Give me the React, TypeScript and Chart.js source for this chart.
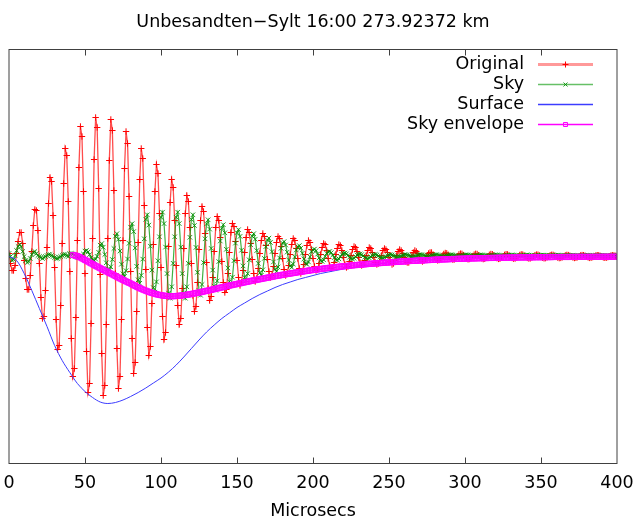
import React, { useEffect, useRef } from "react";
import { Chart, registerables } from "chart.js";

Chart.register(...registerables);

const FONT = '"DejaVu Sans", "Liberation Sans", sans-serif';
const FONT_SIZE = 17.5;

const TITLE = "Unbesandten\u2212Sylt 16:00 273.92372 km";
const X_LABEL = "Microsecs";
const X_MIN = 0;
const X_MAX = 400;
const X_STEP = 50;
const SERIES_NAMES = ["Original", "Sky", "Surface", "Sky envelope"];

// Original and Sky: one sample per microsecond, t = 0 .. 400
const SAMPLE_START_US = 0;
const SAMPLE_STEP_US = 1;

const ORIGINAL = [
  3, -7, -14, -14, -9, 3, 15, 24, 24, 13,
  -4, -22, -33, -33, -19, 5, 31, 47, 46, 26,
  -7, -41, -62, -60, -34, 9, 53, 79, 75, 41,
  -11, -63, -93, -89, -49, 13, 73, 108, 101, 55,
  -15, -82, -120, -112, -61, 16, 89, 130, 120, 65,
  -17, -95, -136, -127, -67, 18, 97, 139, 129, 68,
  -18, -97, -139, -129, -68, 18, 96, 137, 126, 66,
  -17, -92, -132, -120, -63, 16, 88, 125, 113, 60,
  -15, -82, -117, -106, -55, 14, 77, 108, 98, 51,
  -13, -71, -99, -90, -47, 12, 65, 92, 83, 43,
  -11, -60, -83, -76, -40, 10, 54, 77, 69, 36,
  -9, -49, -68, -62, -32, 8, 43, 61, 55, 29,
  -7, -39, -55, -50, -26, 7, 36, 50, 45, 23,
  -6, -32, -44, -40, -21, 5, 29, 40, 36, 19,
  -5, -26, -36, -33, -17, 4, 24, 33, 30, 15,
  -4, -21, -29, -26, -14, 4, 19, 27, 24, 13,
  -3, -17, -25, -22, -12, 3, 16, 23, 20, 11,
  -3, -15, -21, -19, -10, 3, 14, 20, 18, 10,
  -2, -13, -19, -17, -9, 2, 12, 18, 16, 8,
  -2, -12, -17, -15, -8, 2, 11, 16, 14, 7,
  -2, -10, -14, -13, -7, 2, 9, 13, 12, 6,
  -2, -9, -12, -11, -6, 2, 8, 12, 11, 6,
  -1, -8, -11, -10, -5, 1, 7, 10, 9, 5,
  -1, -6, -9, -8, -4, 1, 6, 9, 8, 4,
  -1, -6, -8, -7, -4, 1, 6, 8, 7, 4,
  -1, -5, -8, -7, -4, 1, 5, 7, 6, 3,
  -1, -5, -6, -6, -3, 1, 4, 6, 5, 3,
  -1, -3, -5, -4, -2, 1, 3, 4, 4, 2,
  -0.5, -2.8, -3.9, -3.5, -1.8, 0.5, 2.5, 3.5, 3.2, 1.7,
  -0.4, -2.3, -3.2, -2.9, -1.5, 0.4, 2.1, 2.9, 2.7, 1.4,
  -0.4, -1.9, -2.8, -2.5, -1.3, 0.4, 1.9, 2.7, 2.5, 1.3,
  -0.3, -1.8, -2.6, -2.3, -1.2, 0.3, 1.7, 2.5, 2.3, 1.2,
  -0.3, -1.6, -2.4, -2.2, -1.1, 0.3, 1.6, 2.3, 2.1, 1.1,
  -0.3, -1.5, -2.2, -2.0, -1.0, 0.3, 1.5, 2.1, 1.9, 1.0,
  -0.2, -1.4, -2.0, -1.8, -0.9, 0.2, 1.3, 1.9, 1.8, 0.9,
  -0.2, -1.2, -1.8, -1.6, -0.8, 0.2, 1.2, 1.7, 1.6, 0.8,
  -0.2, -1.1, -1.6, -1.4, -0.8, 0.2, 1.1, 1.6, 1.4, 0.7,
  -0.2, -1.0, -1.5, -1.3, -0.7, 0.2, 1.0, 1.4, 1.3, 0.7,
  -0.2, -0.9, -1.4, -1.2, -0.6, 0.2, 0.9, 1.3, 1.2, 0.6,
  -0.2, -0.9, -1.3, -1.2, -0.6, 0.2, 0.9, 1.2, 1.1, 0.6,
  -0.2,
];

const SKY = [
  3, 0, -4, -3, 1, 6, 10, 12, 10, 5,
  0, -4, -6, -5, -2, 2, 4, 5, 3, 1,
  0, -1, -2, -1, 0, 1, 2, 2, 1, 0,
  -1, -2, -2, -1, 0, 1, 2, 2, 1, 0,
  2.8, 3, 2.5, 1.4, 0.1, -0.8, -1, -0.5, 0.6, 2.5,
  5.4, 6, 4.6, 1.9, -1.1, -3.4, -4, -2.6, 0.1, 4.2,
  11.3, 12.9, 9.3, 2, -6.3, -12.3, -13.9, -10.3, -3, 8,
  20.3, 22.8, 17.2, 5.5, -7.7, -17.3, -19.8, -14.2, -2.5, 13.2,
  29.3, 32.8, 24.9, 8.6, -9.8, -23.3, -26.8, -18.9, -2.6, 17.7,
  37.2, 41.7, 31.4, 10.3, -13.6, -31.2, -35.7, -25.4, -4.3, 19.7,
  39.2, 44.3, 32.9, 9.4, -17.1, -36.6, -41.7, -30.3, -6.8, 19.7,
  39.2, 44.3, 32.9, 9.4, -17.1, -36.6, -41.7, -30.3, -6.8, 19.2,
  37, 41.7, 31, 9.1, -15.8, -34, -38.7, -28, -6.1, 17.7,
  32.6, 36.7, 27.4, 8.1, -13.6, -29.6, -33.7, -24.4, -5.1, 15.5,
  28.2, 31.8, 23.7, 7.2, -11.5, -25.2, -28.8, -20.7, -4.2, 13.4,
  23.8, 26.8, 20.1, 6.3, -9.4, -20.8, -23.8, -17.1, -3.3, 11.7,
  20.4, 22.8, 17.3, 5.9, -6.9, -16.4, -18.8, -13.3, -1.9, 9.9,
  16.4, 18.4, 14, 4.9, -5.4, -12.9, -14.9, -10.5, -1.4, 8.2,
  13.4, 14.9, 11.5, 4.4, -3.5, -9.4, -10.9, -7.5, -0.4, 6.5,
  9.8, 10.9, 8.4, 3.3, -2.5, -6.8, -7.9, -5.4, -0.3, 4.8,
  6.7, 7.4, 5.8, 2.4, -1.4, -4.2, -4.9, -3.3, 0.1, 3.2,
  4.5, 5, 3.8, 1.5, -1.1, -3, -3.5, -2.3, -0.1, 2.1,
  3.1, 3.5, 2.7, 1.1, -0.8, -2.1, -2.5, -1.7, -0.1, 1.5,
  2.2, 2.5, 1.9, 0.7, -0.7, -1.7, -2, -1.4, -0.2, 1.1,
  1.8, 2, 1.5, 0.6, -0.5, -1.3, -1.5, -1, -0.1, 0.9,
  1.6, 1.8, 1.5, 0.8, 0.1, -0.4, -0.5, -0.2, 0.5, 1.2,
  1.7, 1.9, 1.6, 1.0, 0.3, -0.2, -0.3, 0.0, 0.6, 1.3,
  1.8, 1.9, 1.6, 1.1, 0.5, 0.1, 0.0, 0.3, 0.8, 1.3,
  1.7, 1.8, 1.6, 1.1, 0.6, 0.2, 0.1, 0.4, 0.9, 1.4,
  1.6, 1.7, 1.5, 1.1, 0.7, 0.4, 0.3, 0.5, 0.9, 1.3,
  1.6, 1.7, 1.5, 1.2, 0.8, 0.5, 0.4, 0.6, 1.0, 1.3,
  1.5, 1.6, 1.4, 1.1, 0.8, 0.6, 0.5, 0.7, 1.0, 1.3,
  1.5, 1.6, 1.4, 1.1, 0.8, 0.6, 0.6, 0.8, 1.1, 1.3,
  1.4, 1.5, 1.4, 1.1, 0.9, 0.7, 0.6, 0.8, 1.0, 1.2,
  1.4, 1.5, 1.3, 1.1, 0.9, 0.7, 0.7, 0.8, 1.0, 1.2,
  1.3, 1.4, 1.3, 1.1, 0.9, 0.8, 0.7, 0.8, 1.0, 1.2,
  1.3, 1.4, 1.3, 1.1, 0.9, 0.8, 0.8, 0.9, 1.0, 1.1,
  1.2, 1.3, 1.2, 1.1, 0.9, 0.8, 0.8, 0.9, 1.0, 1.1,
  1.2, 1.3, 1.2, 1.0, 0.9, 0.8, 0.8, 0.9, 1.0, 1.1,
  1.2, 1.2, 1.1, 1.0, 0.9, 0.8, 0.8, 0.9, 1.0, 1.1,
  1.1,
];

// Surface: every 5 microseconds, t = 0 .. 400
const SURFACE_START_US = 0;
const SURFACE_STEP_US = 5;
const SURFACE = [
  0, -4, -17, -34, -52, -70, -89, -104, -116, -127,
  -135, -141, -145.5, -147, -146, -143.5, -140, -136, -131.5, -126.5,
  -121.5, -115.5, -108.5, -100.5, -92, -83.5, -75.5, -68.5, -62, -56.5,
  -51, -46.5, -42, -38, -34.5, -31, -28, -25.5, -23, -21,
  -19, -17, -15.5, -14, -12.5, -11.2, -10, -9, -8, -7.1,
  -6.3, -5.6, -5, -4.5, -4, -3.6, -3.2, -2.9, -2.6, -2.3,
  -2.1, -1.9, -1.7, -1.55, -1.4, -1.25, -1.1, -1, -0.9, -0.8,
  -0.7, -0.65, -0.6, -0.55, -0.5, -0.45, -0.4, -0.35, -0.3, -0.28,
  -0.25,
];

// Sky envelope: every microsecond, t = 42 .. 400
const ENVELOPE_START_US = 42;
const ENVELOPE_STEP_US = 1;
const SKY_ENVELOPE = [
  1.5, 1.2, 0.8, 0.3, -0.3, -1.0, -1.8, -2.6,
  -3.5, -4.3, -5.1, -6.0, -6.8, -7.7, -8.5, -9.3, -10.1, -10.9,
  -11.7, -12.5, -13.3, -14.1, -14.8, -15.6, -16.4, -17.1, -17.9, -18.7,
  -19.5, -20.3, -21.1, -21.9, -22.7, -23.4, -24.2, -24.9, -25.6, -26.3,
  -27.0, -27.8, -28.6, -29.4, -30.2, -30.9, -31.6, -32.3, -33.0, -33.6,
  -34.2, -34.8, -35.4, -35.9, -36.4, -36.9, -37.3, -37.7, -38.1, -38.4,
  -38.7, -39.0, -39.2, -39.4, -39.5, -39.6, -39.7, -39.7, -39.7, -39.6,
  -39.5, -39.4, -39.3, -39.1, -38.9, -38.7, -38.5, -38.3, -38.0, -37.8,
  -37.5, -37.2, -36.9, -36.6, -36.3, -36.0, -35.7, -35.4, -35.0, -34.7,
  -34.4, -34.0, -33.7, -33.3, -33.0, -32.6, -32.3, -31.9, -31.6, -31.2,
  -30.9, -30.5, -30.2, -29.8, -29.5, -29.1, -28.8, -28.5, -28.1, -27.8,
  -27.5, -27.1, -26.8, -26.5, -26.1, -25.8, -25.5, -25.2, -24.9, -24.5,
  -24.2, -23.9, -23.6, -23.3, -23.0, -22.7, -22.4, -22.1, -21.8, -21.5,
  -21.2, -20.9, -20.6, -20.3, -20.0, -19.7, -19.4, -19.2, -18.9, -18.6,
  -18.3, -18.1, -17.8, -17.5, -17.3, -17.0, -16.8, -16.5, -16.3, -16.0,
  -15.8, -15.5, -15.3, -15.1, -14.8, -14.6, -14.4, -14.2, -13.9, -13.7,
  -13.5, -13.3, -13.1, -12.9, -12.7, -12.5, -12.3, -12.1, -11.9, -11.7,
  -11.5, -11.3, -11.1, -11.0, -10.8, -10.6, -10.4, -10.3, -10.1, -9.9,
  -9.8, -9.6, -9.5, -9.3, -9.2, -9.0, -8.9, -8.7, -8.6, -8.5,
  -8.3, -8.2, -8.1, -7.9, -7.8, -7.7, -7.5, -7.4, -7.3, -7.2,
  -7.0, -6.9, -6.8, -6.7, -6.6, -6.5, -6.3, -6.2, -6.1, -6.0,
  -5.9, -5.8, -5.7, -5.6, -5.5, -5.4, -5.3, -5.2, -5.1, -5.0,
  -4.9, -4.8, -4.7, -4.6, -4.5, -4.4, -4.4, -4.3, -4.2, -4.1,
  -4.0, -3.9, -3.9, -3.8, -3.7, -3.6, -3.6, -3.5, -3.4, -3.3,
  -3.3, -3.2, -3.1, -3.1, -3.0, -2.9, -2.9, -2.8, -2.8, -2.7,
  -2.6, -2.6, -2.5, -2.5, -2.4, -2.4, -2.3, -2.3, -2.2, -2.2,
  -2.1, -2.1, -2.0, -2.0, -1.9, -1.9, -1.9, -1.8, -1.8, -1.7,
  -1.7, -1.7, -1.6, -1.6, -1.6, -1.5, -1.5, -1.5, -1.4, -1.4,
  -1.4, -1.3, -1.3, -1.3, -1.3, -1.2, -1.2, -1.2, -1.1, -1.1,
  -1.1, -1.1, -1.0, -1.0, -1.0, -1.0, -0.9, -0.9, -0.9, -0.9,
  -0.9, -0.8, -0.8, -0.8, -0.8, -0.8, -0.7, -0.7, -0.7, -0.7,
  -0.7, -0.7, -0.6, -0.6, -0.6, -0.6, -0.6, -0.6, -0.5, -0.5,
  -0.5, -0.5, -0.5, -0.5, -0.5, -0.5, -0.5, -0.5, -0.5, -0.5,
  -0.4, -0.4, -0.4, -0.4, -0.4, -0.4, -0.4, -0.4, -0.4, -0.4,
  -0.4, -0.4, -0.4, -0.4, -0.4, -0.4, -0.4, -0.4, -0.4, -0.4,
  -0.3, -0.3, -0.3, -0.3, -0.3, -0.3, -0.3, -0.3, -0.3, -0.3,
  -0.3,
];

const Y_MIN = -207;
const Y_MAX = 207;

const toPoints = (values: number[], start: number, step: number) =>
  values.map((y, i) => ({ x: start + i * step, y }));

const STYLES = [
  { line: "rgba(255,0,0,0.7)", width: 1.3, marker: "cross", markerColor: "#ff0000", radius: 3.2 },
  { line: "rgba(0,150,0,0.75)", width: 1.2, marker: "crossRot", markerColor: "rgba(0,140,0,0.85)", radius: 3.2 },
  { line: "#3c3cff", width: 1, marker: "none", markerColor: "#3c3cff", radius: 0 },
  { line: "#ff00ff", width: 1, marker: "rect", markerColor: "#ff00ff", radius: 3.6 },
];
const KEY_LINES = ["rgba(255,0,0,0.4)", "rgba(0,150,0,0.6)", "#3c3cff", "#ff00ff"];

function drawMarker(ctx: CanvasRenderingContext2D, kind: string, x: number, y: number, color: string) {
  ctx.save();
  ctx.strokeStyle = color;
  ctx.lineWidth = 1;
  ctx.beginPath();
  if (kind === "cross") {
    ctx.moveTo(x, y - 3);
    ctx.lineTo(x, y + 3);
    ctx.moveTo(x - 3, y);
    ctx.lineTo(x + 3, y);
  } else if (kind === "crossRot") {
    ctx.moveTo(x - 2, y - 2);
    ctx.lineTo(x + 2, y + 2);
    ctx.moveTo(x - 2, y + 2);
    ctx.lineTo(x + 2, y - 2);
  } else if (kind === "rect") {
    ctx.rect(x - 2, y - 2, 4, 4);
  }
  ctx.stroke();
  ctx.restore();
}

export default function App() {
  const ref = useRef<HTMLCanvasElement | null>(null);

  useEffect(() => {
    const canvas = ref.current;
    if (!canvas) return;

    const framePlugin = {
      id: "gnuplotFrame",
      afterDatasetsDraw(chart: any) {
        const { ctx, chartArea: a, scales } = chart;
        const xs = scales.x;
        ctx.save();
        ctx.strokeStyle = "#404040";
        ctx.lineWidth = 1;
        ctx.strokeRect(a.left, a.top, a.right - a.left, a.bottom - a.top);
        ctx.beginPath();
        for (let v = X_MIN + X_STEP; v < X_MAX; v += X_STEP) {
          const px = Math.round(xs.getPixelForValue(v)) + 0.5;
          ctx.moveTo(px, a.bottom);
          ctx.lineTo(px, a.bottom - 6);
          ctx.moveTo(px, a.top);
          ctx.lineTo(px, a.top + 6);
        }
        ctx.stroke();

        // gnuplot-style key, top right
        ctx.font = `${FONT_SIZE}px ${FONT}`;
        ctx.textAlign = "right";
        ctx.textBaseline = "middle";
        ctx.fillStyle = "#000";
        const textRight = a.right - 93;
        const lineL = a.right - 79;
        const lineR = a.right - 24;
        const top = a.top + 14.5;
        SERIES_NAMES.forEach((name, i) => {
          const y = top + i * 20;
          ctx.fillText(name, textRight, y);
          const st = STYLES[i];
          ctx.save();
          ctx.strokeStyle = KEY_LINES[i];
          ctx.lineWidth = i === 0 ? 3 : 1.5;
          ctx.beginPath();
          ctx.moveTo(lineL, Math.round(y) + 0.5);
          ctx.lineTo(lineR, Math.round(y) + 0.5);
          ctx.stroke();
          ctx.restore();
          drawMarker(ctx, st.marker, (lineL + lineR) / 2, Math.round(y) + 0.5, st.markerColor);
        });
        ctx.restore();
      },
    };

    const mk = (i: number, data: any[], order: number) => ({
      label: SERIES_NAMES[i],
      data,
      borderColor: STYLES[i].line,
      borderWidth: STYLES[i].width,
      pointStyle: STYLES[i].marker === "none" ? false : STYLES[i].marker,
      pointRadius: STYLES[i].radius,
      pointBorderColor: STYLES[i].markerColor,
      pointBackgroundColor: "rgba(0,0,0,0)",
      pointBorderWidth: 1,
      pointHoverRadius: STYLES[i].radius,
      tension: 0,
      fill: false,
      order,
    });

    const surfaceDs: any = mk(2, toPoints(SURFACE, SURFACE_START_US, SURFACE_STEP_US), 2);
    surfaceDs.cubicInterpolationMode = "monotone";

    const chart = new Chart(canvas, {
      type: "line",
      data: {
        datasets: [
          mk(0, toPoints(ORIGINAL, SAMPLE_START_US, SAMPLE_STEP_US), 4),
          mk(1, toPoints(SKY, SAMPLE_START_US, SAMPLE_STEP_US), 3),
          surfaceDs,
          mk(3, toPoints(SKY_ENVELOPE, ENVELOPE_START_US, ENVELOPE_STEP_US), 1),
        ] as any,
      },
      options: {
        responsive: false,
        animation: false,
        devicePixelRatio: 1,
        events: [],
        layout: { padding: { left: 9, right: 19, top: 0, bottom: 0 } },
        scales: {
          x: {
            type: "linear",
            min: X_MIN,
            max: X_MAX,
            ticks: {
              stepSize: X_STEP,
              font: { family: FONT, size: FONT_SIZE },
              color: "#000",
              padding: 9,
              maxRotation: 0,
              autoSkip: false,
            },
            grid: { display: false, drawTicks: false },
            border: { display: false },
            title: {
              display: true,
              text: X_LABEL,
              font: { family: FONT, size: FONT_SIZE },
              color: "#000",
              padding: { top: 0, bottom: 0.5 },
            },
            afterFit: (s: any) => {
              s.height = 58.5;
              s.paddingLeft = 0;
              s.paddingRight = 0;
            },
          },
          y: { type: "linear", display: false, min: Y_MIN, max: Y_MAX },
        },
        plugins: {
          legend: { display: false },
          tooltip: { enabled: false },
          title: {
            display: true,
            text: TITLE,
            font: { family: FONT, size: FONT_SIZE, weight: "normal" },
            color: "#000",
            padding: { top: 12, bottom: 16.5 },
          },
        },
      } as any,
      plugins: [framePlugin],
    });

    return () => chart.destroy();
  }, []);

  return (
    <div style={{ position: "fixed", left: 0, top: 0, width: 636, height: 522, background: "#fff" }}>
      <canvas ref={ref} width={636} height={522} style={{ display: "block", width: "636px", height: "522px" }} />
    </div>
  );
}
